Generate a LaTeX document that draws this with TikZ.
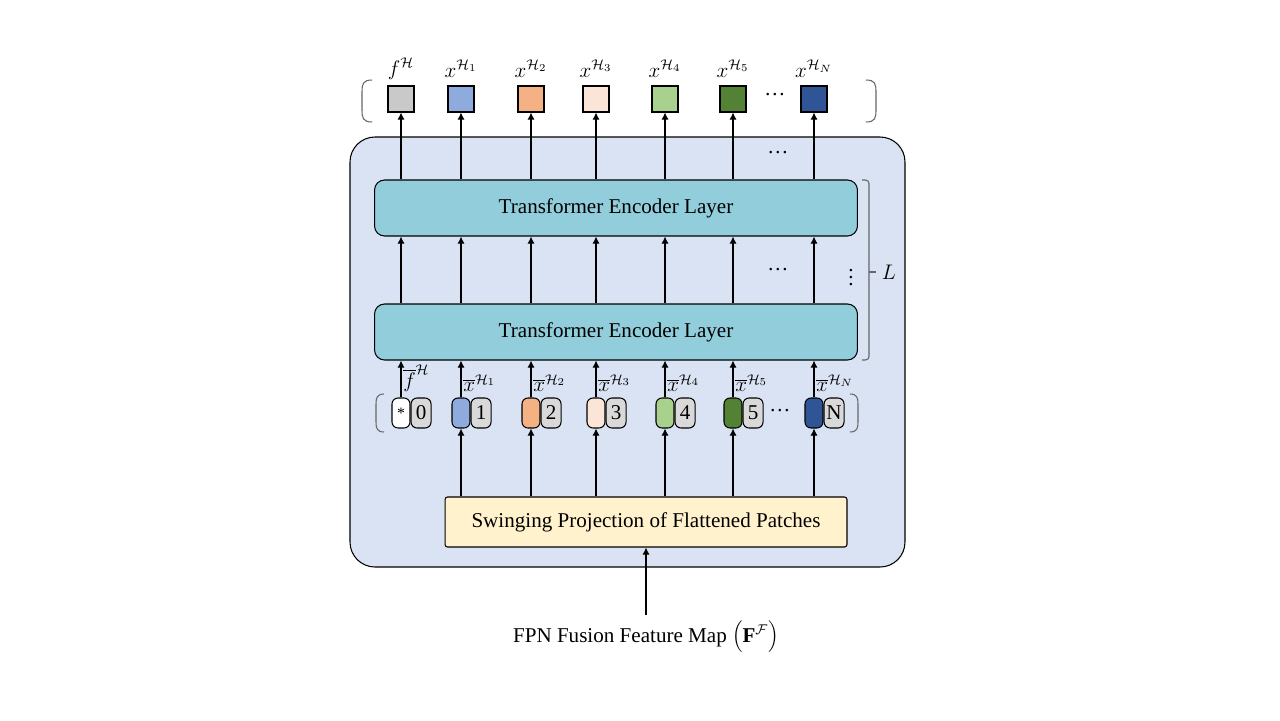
\documentclass[tikz,border=0pt]{standalone}
\usepackage{fontspec}
\setmainfont{Liberation Serif}
\usetikzlibrary{arrows.meta}

\definecolor{bgblue}{RGB}{218,227,243}
\definecolor{enccol}{RGB}{146,205,220}
\definecolor{projcol}{RGB}{255,242,204}
\definecolor{idxgray}{RGB}{217,217,217}
\definecolor{cgray}{RGB}{201,201,201}
\definecolor{cblue}{RGB}{143,170,220}
\definecolor{corange}{RGB}{244,177,131}
\definecolor{cpeach}{RGB}{251,229,214}
\definecolor{clgreen}{RGB}{169,209,142}
\definecolor{cdgreen}{RGB}{84,130,53}
\definecolor{cdblue}{RGB}{47,85,151}

\tikzset{
  outbox/.style={draw, minimum width=0.52cm, minimum height=0.52cm, inner sep=0pt},
  layerbox/.style={draw, rounded corners=0.2cm, fill=enccol, minimum width=9.66cm, minimum height=1.12cm},
  projbox/.style={draw, rounded corners=0.05cm, fill=projcol, minimum width=8.04cm, minimum height=1cm},
  tokbox/.style={draw, rounded corners=0.12cm, minimum width=0.36cm, minimum height=0.6cm, inner sep=0pt},
  idxbox/.style={draw, rounded corners=0.12cm, fill=idxgray, minimum width=0.4cm, minimum height=0.6cm, inner sep=0pt},
  arr/.style={-{Latex[length=4pt,width=4pt]}},
  brk/.style={draw=black!60}
}

\begin{document}
\begin{tikzpicture}[x=0.02cm, y=-0.02cm, line width=0.6pt, font=\large]
    \useasboundingbox (0,0) rectangle (1280,720);
    % background panel
    \draw[fill=bgblue, rounded corners=0.5cm] (350,137) rectangle (905,567);

    \node[layerbox] (enc1) at (616,208) {Transformer Encoder Layer};
    \node[layerbox] (enc2) at (616,332) {Transformer Encoder Layer};
    \node[projbox] (proj) at (646,522) {Swinging Projection of Flattened Patches};

    % class token column
    \node[outbox, fill=cgray] (out0) at (401,99) {};
    \node (lab0) at (401,69) {$f^{\mathcal{H}}$};
    \node[tokbox, fill=white] (tok0) at (401,413) {\small *};
    \node[idxbox, anchor=west] (idx0) at (tok0.east) {0};
    \node[anchor=south west, inner sep=1pt] (bar0) at ([yshift=2pt]tok0.north) {$\overline{f}^{\mathcal{H}}$};
    \draw[arr] (tok0.north) -- (enc2.south -| tok0);
    \draw[arr] (enc2.north -| tok0) -- (enc1.south -| tok0);
    \draw[arr] (enc1.north -| out0) -- (out0.south);

    % patch token columns
    \foreach \i/\x/\c/\s in {1/461/cblue/1, 2/531/corange/2, 3/596/cpeach/3, 4/665/clgreen/4, 5/733/cdgreen/5, 6/814/cdblue/N} {
        \node[outbox, fill=\c] (out\i) at (\x,99) {};
        \node (lab\i) at (\x,69) {$x^{\mathcal{H}_{\s}}$};
        \node[tokbox, fill=\c] (tok\i) at (\x,413) {};
        \node[idxbox, anchor=west] (idx\i) at (tok\i.east) {\s};
        \node[anchor=south west, inner sep=1pt] (bar\i) at ([yshift=2pt]tok\i.north) {$\overline{x}^{\mathcal{H}_{\s}}$};
        \draw[arr] (proj.north -| tok\i) -- (tok\i.south);
        \draw[arr] (tok\i.north) -- (enc2.south -| tok\i);
        \draw[arr] (enc2.north -| tok\i) -- (enc1.south -| tok\i);
        \draw[arr] (enc1.north -| out\i) -- (out\i.south);
    }

    % dots
    \node (dout) at (775,95) {\textellipsis};
    \node (dmid) at (778,153) {\textellipsis};
    \node (dlay) at (778,270) {\textellipsis};
    \node[inner sep=0pt] (dvert) at (851,272) {$\vdots$};
    \node (dtok) at (780,411) {\textellipsis};

    % brackets
    \draw[brk] (372,80) .. controls (363,80) and (362,84) .. (362,92) -- (362,110) .. controls (362,118) and (363,122) .. (372,122);
    \draw[brk] (866,80) .. controls (875,80) and (876,84) .. (876,92) -- (876,110) .. controls (876,118) and (875,122) .. (866,122);
    \draw[brk] (384,394) .. controls (377,394) and (376,398) .. (376,404) -- (376,422) .. controls (376,428) and (377,432) .. (384,432);
    \draw[brk] (850,394) .. controls (857,394) and (858,398) .. (858,404) -- (858,422) .. controls (858,428) and (857,432) .. (850,432);
    \draw[brk, rounded corners=2pt] (862,180) -- (869,180) -- (869,360) -- (862,360);
    \draw[brk] (869,272) -- (876,272);
    \node (nlay) at (889,272) {$L$};

    % input
    \node (fpn) at (646,637) {FPN Fusion Feature Map $\left(\mathbf{F}^{\mathcal{F}}\right)$};
    \coordinate (fpnin) at (646,615);
    \draw[arr] (fpnin) -- (proj.south);
\end{tikzpicture}
\end{document}
